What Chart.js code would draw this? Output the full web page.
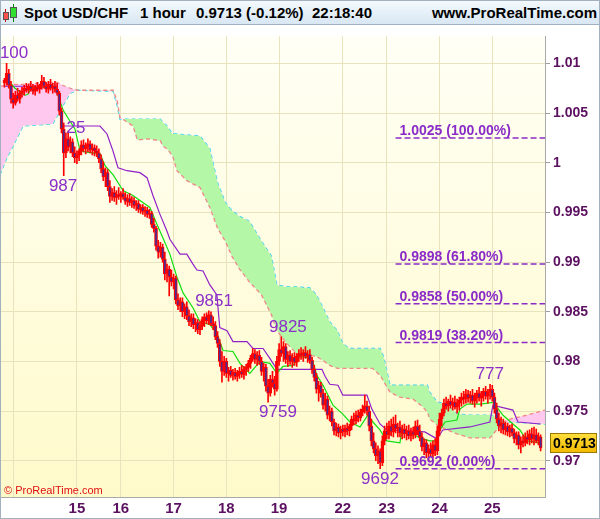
<!doctype html>
<html>
<head>
<meta charset="UTF-8">
<title>Spot USD/CHF 1 hour</title>
<script src="https://cdn.jsdelivr.net/npm/chart.js@4.4.1/dist/chart.umd.min.js"></script>
<style>
	body { margin: 0; background: #fff; }
	#wrap { position: relative; width: 600px; height: 519px; overflow: hidden; font-family: "Liberation Sans", Arial, sans-serif; }
	#head { position: absolute; left: 0; top: 0; width: 600px; height: 25px; box-sizing: border-box;
		background: linear-gradient(#f5fafe, #d8e7f3); border-bottom: 1px solid #9fb0c2; }
	#head span { position: absolute; top: 5px; font-weight: bold; font-size: 15px; line-height: 16px; color: #000; white-space: nowrap; }
	.cw { position: absolute; width: 1px; }
	.cb { position: absolute; box-sizing: border-box; border: 1px solid #555; }
	#holder { position: absolute; left: 0; top: 25px; width: 600px; height: 494px; }
	#frame { position: absolute; left: 0; top: 0; width: 600px; height: 519px; box-sizing: border-box; border: 1px solid #a3b1bf; pointer-events: none; }
</style>
</head>
<body>
<div id="wrap">
	<div id="head">
		<div class="cw" style="left:5px;top:9px;height:13px;background:#c00"></div>
		<div class="cb" style="left:3px;top:12px;width:6px;height:8px;background:#ff5050"></div>
		<div class="cw" style="left:13px;top:4px;height:18px;background:#080"></div>
		<div class="cb" style="left:10px;top:7px;width:7px;height:11px;background:#30e030"></div>
		<span style="left:24px">Spot USD/CHF</span>
		<span style="left:140px">1 hour</span>
		<span style="left:196px">0.9713 (-0.12%)</span>
		<span style="left:312px">22:18:40</span>
		<span style="right:3px">www.ProRealTime.com</span>
	</div>
	<div id="holder"><canvas id="chart-area" width="600" height="494"></canvas></div>
	<div id="frame"></div>
</div>
<script>
	// hourly candles, one entry per bar (bar index = position in array)
	var openP = [
		1.0080,1.0083,1.0090,1.0078,1.0064,1.0060,1.0068,1.0064,1.0070,1.0072,
		1.0075,1.0073,1.0077,1.0074,1.0072,1.0076,1.0074,1.0078,1.0082,1.0077,
		1.0074,1.0079,1.0075,1.0077,1.0074,1.0070,1.0052,1.0034,1.0010,1.0024,
		1.0016,1.0021,1.0010,1.0005,1.0008,1.0012,1.0018,1.0014,1.0016,1.0019,
		1.0013,1.0015,1.0012,1.0010,1.0004,0.9994,0.9986,0.9990,0.9976,0.9966,
		0.9970,0.9965,0.9968,0.9966,0.9969,0.9965,0.9961,0.9964,0.9960,0.9962,
		0.9957,0.9959,0.9953,0.9955,0.9951,0.9952,0.9948,0.9949,0.9938,0.9934,
		0.9916,0.9910,0.9915,0.9903,0.9888,0.9893,0.9885,0.9880,0.9884,0.9862,
		0.9856,0.9860,0.9850,0.9855,0.9846,0.9840,0.9844,0.9837,0.9839,0.9832,
		0.9836,0.9842,0.9845,0.9841,0.9847,0.9838,0.9836,0.9825,0.9818,0.9800,
		0.9790,0.9800,0.9788,0.9791,0.9786,0.9789,0.9785,0.9788,0.9790,0.9787,
		0.9792,0.9794,0.9798,0.9803,0.9808,0.9802,0.9806,0.9800,0.9790,0.9794,
		0.9775,0.9768,0.9782,0.9778,0.9772,0.9800,0.9812,0.9808,0.9815,0.9802,
		0.9806,0.9800,0.9804,0.9799,0.9805,0.9808,0.9806,0.9809,0.9805,0.9807,
		0.9801,0.9792,0.9784,0.9772,0.9776,0.9768,0.9756,0.9762,0.9746,0.9750,
		0.9739,0.9730,0.9734,0.9728,0.9732,0.9729,0.9733,0.9730,0.9735,0.9742,
		0.9740,0.9746,0.9743,0.9749,0.9752,0.9755,0.9750,0.9735,0.9720,0.9712,
		0.9705,0.9710,0.9698,0.9720,0.9730,0.9726,0.9735,0.9729,0.9737,0.9732,
		0.9734,0.9728,0.9732,0.9727,0.9730,0.9725,0.9729,0.9726,0.9735,0.9730,
		0.9724,0.9714,0.9718,0.9708,0.9712,0.9707,0.9716,0.9710,0.9730,0.9742,
		0.9748,0.9758,0.9755,0.9760,0.9756,0.9759,0.9754,0.9758,0.9761,0.9764,
		0.9762,0.9767,0.9763,0.9766,0.9760,0.9764,0.9768,0.9763,0.9766,0.9770,
		0.9765,0.9769,0.9772,0.9764,0.9752,0.9742,0.9735,0.9738,0.9731,0.9735,
		0.9729,0.9733,0.9728,0.9722,0.9726,0.9716,0.9720,0.9718,0.9724,0.9721,
		0.9727,0.9722,0.9726,0.9720,0.9724
	];
	var highP = [
		1.0085,1.0100,1.0094,1.0082,1.0070,1.0072,1.0075,1.0073,1.0076,1.0078,
		1.0080,1.0079,1.0082,1.0079,1.0078,1.0081,1.0079,1.0088,1.0086,1.0081,
		1.0082,1.0084,1.0080,1.0082,1.0080,1.0072,1.0055,1.0040,1.0030,1.0032,
		1.0026,1.0024,1.0016,1.0012,1.0014,1.0022,1.0023,1.0020,1.0024,1.0022,
		1.0019,1.0018,1.0017,1.0014,1.0008,1.0001,0.9995,0.9993,0.9982,0.9974,
		0.9976,0.9972,0.9975,0.9971,0.9974,0.9970,0.9968,0.9969,0.9966,0.9965,
		0.9962,0.9962,0.9958,0.9958,0.9956,0.9955,0.9953,0.9951,0.9944,0.9936,
		0.9922,0.9920,0.9918,0.9910,0.9898,0.9896,0.9892,0.9888,0.9886,0.9868,
		0.9864,0.9864,0.9858,0.9860,0.9852,0.9848,0.9848,0.9843,0.9842,0.9840,
		0.9845,0.9848,0.9849,0.9851,0.9850,0.9845,0.9840,0.9830,0.9822,0.9810,
		0.9805,0.9803,0.9794,0.9795,0.9792,0.9793,0.9791,0.9794,0.9796,0.9795,
		0.9797,0.9801,0.9806,0.9813,0.9812,0.9810,0.9811,0.9804,0.9798,0.9797,
		0.9782,0.9786,0.9790,0.9785,0.9805,0.9818,0.9825,0.9820,0.9818,0.9810,
		0.9811,0.9808,0.9809,0.9808,0.9812,0.9814,0.9812,0.9815,0.9811,0.9812,
		0.9804,0.9796,0.9788,0.9780,0.9779,0.9772,0.9768,0.9765,0.9755,0.9753,
		0.9742,0.9738,0.9737,0.9735,0.9736,0.9736,0.9738,0.9737,0.9745,0.9748,
		0.9750,0.9751,0.9752,0.9756,0.9766,0.9760,0.9755,0.9742,0.9728,0.9718,
		0.9715,0.9712,0.9725,0.9735,0.9738,0.9740,0.9742,0.9744,0.9746,0.9738,
		0.9740,0.9736,0.9737,0.9735,0.9736,0.9733,0.9734,0.9740,0.9741,0.9736,
		0.9728,0.9722,0.9721,0.9716,0.9718,0.9720,0.9722,0.9735,0.9748,0.9752,
		0.9762,0.9764,0.9762,0.9766,0.9763,0.9765,0.9762,0.9764,0.9768,0.9770,
		0.9772,0.9771,0.9770,0.9772,0.9768,0.9771,0.9774,0.9770,0.9773,0.9775,
		0.9772,0.9777,0.9776,0.9768,0.9758,0.9748,0.9744,0.9742,0.9739,0.9738,
		0.9736,0.9737,0.9732,0.9729,0.9729,0.9724,0.9726,0.9728,0.9730,0.9731,
		0.9733,0.9734,0.9732,0.9728,0.9726
	];
	var lowP = [
		1.0076,1.0078,1.0075,1.0060,1.0055,1.0058,1.0062,1.0060,1.0066,1.0068,
		1.0071,1.0070,1.0072,1.0069,1.0068,1.0072,1.0070,1.0074,1.0075,1.0071,
		1.0070,1.0073,1.0070,1.0071,1.0068,1.0048,1.0030,0.9987,1.0005,1.0012,
		1.0010,1.0006,1.0000,0.9999,1.0002,1.0008,1.0011,1.0009,1.0011,1.0010,
		1.0008,1.0007,1.0006,1.0000,0.9990,0.9982,0.9976,0.9972,0.9960,0.9962,
		0.9961,0.9958,0.9963,0.9960,0.9963,0.9958,0.9956,0.9957,0.9955,0.9954,
		0.9952,0.9950,0.9949,0.9948,0.9946,0.9945,0.9944,0.9935,0.9930,0.9912,
		0.9904,0.9905,0.9900,0.9882,0.9880,0.9866,0.9876,0.9873,0.9858,0.9852,
		0.9850,0.9845,0.9843,0.9842,0.9836,0.9835,0.9833,0.9830,0.9828,0.9827,
		0.9832,0.9835,0.9838,0.9837,0.9836,0.9832,0.9822,0.9814,0.9795,0.9779,
		0.9786,0.9784,0.9780,0.9784,0.9781,0.9782,0.9780,0.9783,0.9784,0.9782,
		0.9786,0.9790,0.9793,0.9800,0.9798,0.9796,0.9797,0.9786,0.9780,0.9770,
		0.9759,0.9765,0.9774,0.9766,0.9770,0.9796,0.9805,0.9800,0.9798,0.9795,
		0.9797,0.9794,0.9796,0.9795,0.9800,0.9802,0.9800,0.9803,0.9799,0.9798,
		0.9788,0.9780,0.9768,0.9760,0.9764,0.9752,0.9750,0.9742,0.9740,0.9735,
		0.9726,0.9725,0.9724,0.9722,0.9725,0.9724,0.9726,0.9725,0.9731,0.9736,
		0.9737,0.9739,0.9740,0.9745,0.9748,0.9746,0.9730,0.9715,0.9708,0.9700,
		0.9697,0.9692,0.9695,0.9716,0.9722,0.9722,0.9725,0.9724,0.9728,0.9724,
		0.9724,0.9722,0.9723,0.9721,0.9722,0.9720,0.9722,0.9723,0.9726,0.9720,
		0.9710,0.9706,0.9703,0.9700,0.9704,0.9703,0.9705,0.9706,0.9725,0.9735,
		0.9745,0.9752,0.9750,0.9753,0.9751,0.9752,0.9748,0.9751,0.9755,0.9757,
		0.9758,0.9759,0.9758,0.9757,0.9754,0.9758,0.9760,0.9755,0.9760,0.9762,
		0.9758,0.9762,0.9760,0.9748,0.9738,0.9730,0.9728,0.9727,0.9726,0.9725,
		0.9724,0.9725,0.9718,0.9716,0.9712,0.9708,0.9714,0.9715,0.9717,0.9716,
		0.9718,0.9716,0.9718,0.9716,0.9710
	];
	var closeP = [
		1.0083,1.0090,1.0078,1.0064,1.0060,1.0068,1.0064,1.0070,1.0072,1.0075,
		1.0073,1.0077,1.0074,1.0072,1.0076,1.0074,1.0078,1.0082,1.0077,1.0074,
		1.0079,1.0075,1.0077,1.0074,1.0070,1.0052,1.0034,1.0010,1.0024,1.0016,
		1.0021,1.0010,1.0005,1.0008,1.0012,1.0018,1.0014,1.0016,1.0019,1.0013,
		1.0015,1.0012,1.0010,1.0004,0.9994,0.9986,0.9990,0.9976,0.9966,0.9970,
		0.9965,0.9968,0.9966,0.9969,0.9965,0.9961,0.9964,0.9960,0.9962,0.9957,
		0.9959,0.9953,0.9955,0.9951,0.9952,0.9948,0.9949,0.9938,0.9934,0.9916,
		0.9910,0.9915,0.9903,0.9888,0.9893,0.9885,0.9880,0.9884,0.9862,0.9856,
		0.9860,0.9850,0.9855,0.9846,0.9840,0.9844,0.9837,0.9839,0.9832,0.9836,
		0.9842,0.9845,0.9841,0.9847,0.9838,0.9836,0.9825,0.9818,0.9800,0.9790,
		0.9800,0.9788,0.9791,0.9786,0.9789,0.9785,0.9788,0.9790,0.9787,0.9792,
		0.9794,0.9798,0.9803,0.9808,0.9802,0.9806,0.9800,0.9790,0.9794,0.9775,
		0.9768,0.9782,0.9778,0.9772,0.9800,0.9812,0.9808,0.9815,0.9802,0.9806,
		0.9800,0.9804,0.9799,0.9805,0.9808,0.9806,0.9809,0.9805,0.9807,0.9801,
		0.9792,0.9784,0.9772,0.9776,0.9768,0.9756,0.9762,0.9746,0.9750,0.9739,
		0.9730,0.9734,0.9728,0.9732,0.9729,0.9733,0.9730,0.9735,0.9742,0.9740,
		0.9746,0.9743,0.9749,0.9752,0.9755,0.9750,0.9735,0.9720,0.9712,0.9705,
		0.9710,0.9698,0.9720,0.9730,0.9726,0.9735,0.9729,0.9737,0.9732,0.9734,
		0.9728,0.9732,0.9727,0.9730,0.9725,0.9729,0.9726,0.9735,0.9730,0.9724,
		0.9714,0.9718,0.9708,0.9712,0.9707,0.9716,0.9710,0.9730,0.9742,0.9748,
		0.9758,0.9755,0.9760,0.9756,0.9759,0.9754,0.9758,0.9761,0.9764,0.9762,
		0.9767,0.9763,0.9766,0.9760,0.9764,0.9768,0.9763,0.9766,0.9770,0.9765,
		0.9769,0.9772,0.9764,0.9752,0.9742,0.9735,0.9738,0.9731,0.9735,0.9729,
		0.9733,0.9728,0.9722,0.9726,0.9716,0.9720,0.9718,0.9724,0.9721,0.9727,
		0.9722,0.9726,0.9720,0.9724,0.9713
	];

	// ichimoku lines (bar index / price)
	var tenkanIdx = [0,2.5,4.8,9.4,10.7,12.6,18.5,23,24.4,26.7,29.8,32.1,34.4,36.7,43.5,45.8,49.4,54,58.5,63,
		66.2,69.4,72.2,75.3,78.5,81.3,85.8,89,93.5,96.7,99.5,104,107.2,111.7,116.3,120.8,124,126.8,131.3,134.5,
		140,142.2,145,149.5,154,157.2,161.8,165.4,167.7,170.9,174,180,180.9,185.9,189,193.6,196.8,198.2,200.5,205.9,
		207.3,210.5,216.4,223.2,224.1,226.8,231.4,234.6,237.8,243.7];
	var tenkanVal = [1.0083,1.0081,1.0075,1.0068,1.0069,1.0076,1.0076,1.0077,1.0068,1.0053,1.0042,1.0034,1.0012,1.0011,1.0009,0.9997,0.9988,0.9972,0.9967,0.9960,
		0.9955,0.9938,0.9924,0.9908,0.9885,0.9869,0.9854,0.9840,0.9837,0.9828,0.9811,0.9810,0.9798,0.9788,0.9800,0.9798,0.9788,0.9795,0.9796,0.9805,
		0.9803,0.9786,0.9776,0.9756,0.9747,0.9739,0.9734,0.9746,0.9739,0.9731,0.9720,0.9718,0.9731,0.9727,0.9723,0.9720,0.9720,0.9731,0.9739,0.9741,
		0.9752,0.9757,0.9757,0.9759,0.9754,0.9746,0.9737,0.9731,0.9720,0.9718];
	var kijunIdx = [0,24,25.3,26.7,43.5,46.7,49.4,51.7,55.8,61.7,64.9,67.6,70.8,74,75.3,79.9,83,85.8,87.6,90.4,
		93.5,96.7,98,101.3,104,110.4,113.1,117.7,120.8,124,144.5,145.9,148.1,151.8,154,165,167.2,170.9,174,191.3,
		196.8,199.5,211.8,220.9,222.3,231.4,233.7,244];
	var kijunVal = [1.0077,1.0077,1.0058,1.0037,1.0037,1.0029,1.0012,0.9995,0.9992,0.9990,0.9985,0.9967,0.9948,0.9931,0.9923,0.9908,0.9908,0.9898,0.9892,0.9891,
		0.9877,0.9867,0.9834,0.9831,0.9820,0.9820,0.9813,0.9813,0.9803,0.9792,0.9792,0.9785,0.9777,0.9776,0.9766,0.9766,0.9752,0.9737,0.9731,0.9729,
		0.9722,0.9731,0.9734,0.9739,0.9756,0.9751,0.9739,0.9737];
	var cloudIdx = [-2,1,4,8.5,22,24,26.5,30,33,49.5,51.5,52.5,58.5,60.5,66,71,72,74,76.5,78.5,
		83,89,93.5,97,100.5,103.5,107,111.5,117,121.5,124,128.5,133,139,142,145,148,151.5,154,157,
		167.5,171,172.5,175.5,180,186,190.5,192.5,193.5,197,201.5,206,212,221,224,227,230,238,246];
	var spanA = [1.0077,1.0078,1.0079,1.0079,1.0081,1.0081,1.0078,1.0075,1.0073,1.0073,1.0061,1.0046,1.0037,1.0023,1.0024,1.0022,1.0017,1.0014,1.0007,0.9992,
		0.9982,0.9975,0.9955,0.9934,0.9921,0.9906,0.9893,0.9880,0.9867,0.9847,0.9831,0.9818,0.9808,0.9806,0.9805,0.9801,0.9796,0.9793,0.9793,0.9793,
		0.9793,0.9786,0.9780,0.9769,0.9764,0.9762,0.9754,0.9749,0.9742,0.9736,0.9731,0.9727,0.9723,0.9723,0.9731,0.9739,0.9742,0.9746,0.9751];
	var spanB = [0.9988,1.0004,1.0017,1.0037,1.0039,1.0047,1.0057,1.0070,1.0073,1.0072,1.0056,1.0044,1.0044,1.0044,1.0044,1.0044,1.0041,1.0037,1.0029,1.0029,
		1.0028,1.0027,1.0014,0.9980,0.9960,0.9952,0.9946,0.9941,0.9921,0.9906,0.9877,0.9875,0.9875,0.9874,0.9867,0.9854,0.9840,0.9831,0.9818,0.9813,
		0.9813,0.9813,0.9805,0.9776,0.9776,0.9776,0.9776,0.9776,0.9769,0.9759,0.9757,0.9747,0.9746,0.9746,0.9744,0.9739,0.9739,0.9738,0.9737];

	// fibonacci retracement
	var fibVals = [1.0025, 0.9898, 0.9858, 0.9819, 0.9692];
	var fibPct = ['100.00%', '61.80%', '50.00%', '38.20%', '0.00%'];
	var fibFrom = 178, fibTo = 246;

	// swing high / low labels
	var swingText = ['100', '25', '987', '9851', '9825', '9759', '9692', '777'];
	var swingIdx = [4.4, 32.6, 26.7, 95.4, 129, 124.5, 170.9, 220.9];
	var swingVal = [1.0100, 1.0025, 0.9987, 0.9851, 0.9825, 0.9759, 0.9692, 0.9777];
	var swingHigh = [true, true, false, true, true, false, false, true];

	// x axis: bar index where each day starts
	var dayIdx = [4, 33, 53, 77, 101, 125, 154, 174, 198, 222];
	var dayLabels = ['', '15', '16', '17', '18', '19', '22', '23', '24', '25'];

	function pts(xs, ys) {
		return xs.map(function (x, i) { return {x: x, y: ys[i]}; });
	}

	var bodyData = openP.map(function (o, i) { return {x: i, y: [o, closeP[i]]}; });
	var wickData = lowP.map(function (l, i) { return {x: i, y: [l, highP[i]]}; });
	var bodyColors = openP.map(function (o, i) { return closeP[i] < o ? '#4a2a90' : '#ff0000'; });

	var fibSets = fibVals.map(function (v) {
		return {
			type: 'line', data: [{x: fibFrom, y: v}, {x: fibTo, y: v}],
			borderColor: '#8a2bc8', borderWidth: 1.5, borderDash: [6, 3], pointRadius: 0, order: 2
		};
	});

	var bgPlugin = {
		id: 'bg',
		beforeDraw: function (chart) {
			var ctx = chart.ctx, a = chart.chartArea;
			var g = ctx.createLinearGradient(0, a.top, 0, a.bottom);
			g.addColorStop(0, '#fffff5');
			g.addColorStop(1, '#fffaca');
			ctx.save();
			ctx.fillStyle = g;
			ctx.fillRect(a.left, a.top, a.right - a.left, a.bottom - a.top);
			ctx.restore();
		},
		afterDatasetsDraw: function (chart) {
			var ctx = chart.ctx, xs = chart.scales.x, ys = chart.scales.y;
			ctx.save();
			ctx.font = '17px "Liberation Sans", Arial, sans-serif';
			ctx.fillStyle = '#8b2fc9';
			ctx.textAlign = 'center';
			ctx.textBaseline = 'alphabetic';
			for (var i = 0; i < swingText.length; i++) {
				var px = xs.getPixelForValue(swingIdx[i]);
				var py = ys.getPixelForValue(swingVal[i]);
				ctx.fillText(swingText[i], px, swingHigh[i] ? py - 5 : py + 15);
			}
			ctx.font = 'bold 14px "Liberation Sans", Arial, sans-serif';
			ctx.fillStyle = '#8a2bc8';
			ctx.textAlign = 'left';
			for (var j = 0; j < fibVals.length; j++) {
				var fy = ys.getPixelForValue(fibVals[j]);
				ctx.fillText(fibVals[j].toFixed(4) + ' (' + fibPct[j] + ')', xs.getPixelForValue(fibFrom) + 4, fy - 3);
			}
			ctx.restore();
		},
		afterDraw: function (chart) {
			var ctx = chart.ctx, a = chart.chartArea, ys = chart.scales.y;
			ctx.save();
			ctx.font = '11px "Liberation Sans", Arial, sans-serif';
			ctx.fillStyle = '#e01010';
			ctx.textAlign = 'left';
			ctx.fillText('\u00a9 ProRealTime.com', a.left + 4, a.bottom - 3);

			// last price tag
			var last = closeP[closeP.length - 1];
			var ty = Math.round(ys.getPixelForValue(last)) - 5;
			var g = ctx.createLinearGradient(0, ty - 10, 0, ty + 10);
			g.addColorStop(0, '#ffe040');
			g.addColorStop(1, '#f2b800');
			ctx.fillStyle = g;
			ctx.fillRect(a.right + 5, ty - 10, 47, 20);
			ctx.strokeStyle = '#9a7a00';
			ctx.lineWidth = 1;
			ctx.strokeRect(a.right + 5.5, ty - 9.5, 46, 19);
			ctx.fillStyle = '#000';
			ctx.font = 'bold 14px "Liberation Sans", Arial, sans-serif';
			ctx.textBaseline = 'middle';
			ctx.fillText(last.toFixed(4), a.right + 8, ty + 1);
			ctx.restore();
		}
	};

	var config = {
		data: {
			datasets: [
				{
					type: 'bar', data: bodyData, backgroundColor: bodyColors, borderColor: '#ff0000',
					borderWidth: 1, borderSkipped: false, barThickness: 3, grouped: false, order: 0
				},
				{
					type: 'bar', data: wickData, backgroundColor: '#ff0000', borderWidth: 0,
					barThickness: 1, grouped: false, order: 0
				},
				{
					type: 'line', data: pts(tenkanIdx, tenkanVal), borderColor: '#10e010',
					borderWidth: 1.2, pointRadius: 0, order: 1
				},
				{
					type: 'line', data: pts(kijunIdx, kijunVal), borderColor: '#9020c8',
					borderWidth: 1.2, pointRadius: 0, order: 1
				},
				{
					type: 'line', data: pts(cloudIdx, spanA), borderColor: '#f08a8a', borderWidth: 1.3,
					borderDash: [4, 3], pointRadius: 0, order: 3,
					fill: {target: 5, above: '#ffc8ef', below: '#b4f7a6'}
				},
				{
					type: 'line', data: pts(cloudIdx, spanB), borderColor: '#32d4f0', borderWidth: 1.3,
					borderDash: [4, 3], pointRadius: 0, order: 3
				}
			].concat(fibSets)
		},
		options: {
			responsive: false,
			animation: false,
			layout: {padding: 0},
			plugins: {legend: {display: false}, tooltip: {enabled: false}, title: {display: false}},
			scales: {
				x: {
					type: 'linear', min: -2, max: 246, offset: false,
					afterBuildTicks: function (scale) {
						scale.ticks = dayIdx.map(function (v) { return {value: v}; });
					},
					afterFit: function (scale) { scale.height = 22; },
					grid: {color: '#e8e2bd', drawTicks: false, offset: false},
					border: {color: '#a9a9a9'},
					ticks: {
						autoSkip: false, maxRotation: 0, padding: 3, color: '#5b1060',
						font: {family: '"Liberation Sans", Arial, sans-serif', size: 15, weight: 'bold'},
						callback: function (v, i) { return dayLabels[i]; }
					}
				},
				y: {
					type: 'linear', position: 'right', min: 0.96635, max: 1.01272,
					afterFit: function (scale) { scale.width = 55; },
					grid: {color: '#e8e2bd', tickColor: '#a0a0a0', tickLength: 5},
					border: {color: '#a9a9a9'},
					ticks: {
						stepSize: 0.005, includeBounds: false, padding: 3, color: '#5b1060',
						font: {family: '"Liberation Sans", Arial, sans-serif', size: 14, weight: 'bold'},
						callback: function (v) { return String(Number(v.toFixed(3))); }
					}
				}
			}
		},
		plugins: [bgPlugin]
	};

	window.onload = function () {
		var ctx = document.getElementById('chart-area').getContext('2d');
		window.myChart = new Chart(ctx, config);
	};
</script>
</body>
</html>
